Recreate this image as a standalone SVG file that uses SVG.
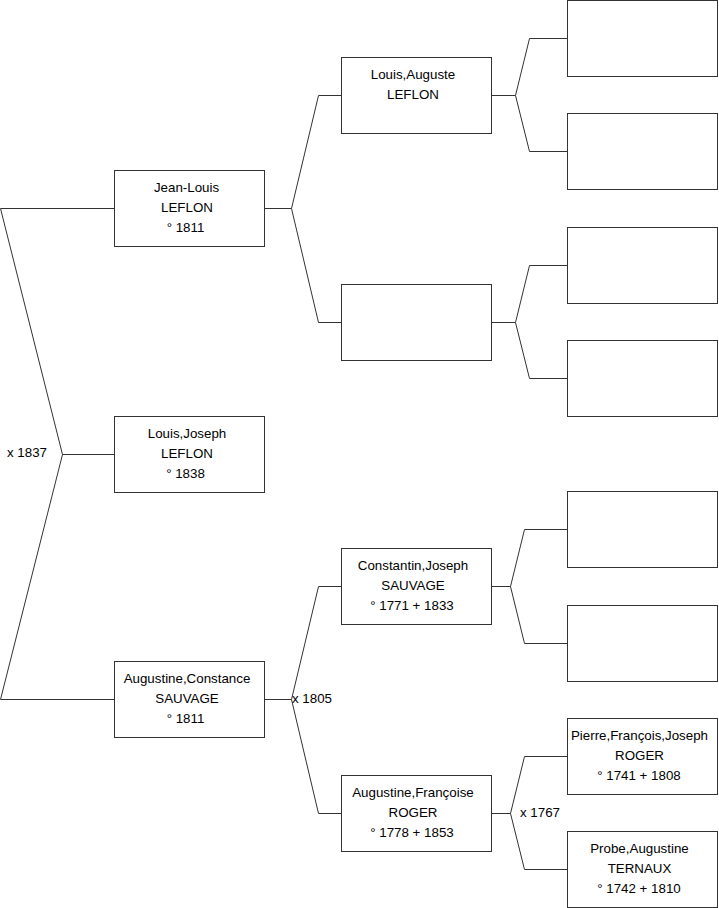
<svg xmlns="http://www.w3.org/2000/svg" width="719" height="908" viewBox="0 0 719 908">
<style>
rect.b{fill:#fff;stroke:#333;stroke-width:1}
text{font-family:"Liberation Sans",Arial,sans-serif;font-size:13.33px;fill:#000;text-anchor:middle}
text.l{text-anchor:start}
#connectors path{fill:none;stroke:#333;stroke-width:1}
</style>
<rect width="719" height="908" fill="#fff"/>
<g id="connectors">
<path d="M0.5,208.5H114M0.5,208.5L62.5,454.5L0.5,699.5H114M62.5,454.5H114"/>
<path d="M265,208.5H291.5L318.5,95.5H341M291.5,208.5L318.5,322.5H341"/>
<path d="M265,699.5H291.5L318.5,586.5H341M291.5,699.5L318.5,813.5H341"/>
<path d="M492,95.5H515.5L529.5,38.5H567M515.5,95.5L529.5,151.5H567"/>
<path d="M492,322.5H515.5L529.5,265.5H567M515.5,322.5L529.5,378.5H567"/>
<path d="M492,586.5H510.5L524.5,529.5H567M510.5,586.5L524.5,643.5H567"/>
<path d="M492,813.5H510.5L524.5,756.5H567M510.5,813.5L524.5,869.5H567"/>
<text class="l" x="7" y="457">x 1837</text>
<text class="l" x="292" y="703">x 1805</text>
<text class="l" x="520" y="817">x 1767</text>
</g>
<g id="n1"><rect class="b" x="114.5" y="170.5" width="150" height="76"/><text x="186.5" y="191.5">Jean-Louis</text><text x="187" y="211.5">LEFLON</text><text x="185.5" y="231.5">° 1811</text></g>
<g id="n0"><rect class="b" x="114.5" y="416.5" width="150" height="76"/><text x="187" y="437.5">Louis,Joseph</text><text x="187" y="457.5">LEFLON</text><text x="185.5" y="477.5">° 1838</text></g>
<g id="n2"><rect class="b" x="114.5" y="661.5" width="150" height="76"/><text x="187" y="682.5">Augustine,Constance</text><text x="187" y="702.5">SAUVAGE</text><text x="185.5" y="722.5">° 1811</text></g>
<g id="n3"><rect class="b" x="341.5" y="57.5" width="150" height="76"/><text x="413" y="78.5">Louis,Auguste</text><text x="413" y="98.5">LEFLON</text></g>
<g id="n4"><rect class="b" x="341.5" y="284.5" width="150" height="76"/></g>
<g id="n5"><rect class="b" x="341.5" y="548.5" width="150" height="76"/><text x="413" y="569.5">Constantin,Joseph</text><text x="413" y="589.5">SAUVAGE</text><text x="412" y="609.5">° 1771 + 1833</text></g>
<g id="n6"><rect class="b" x="341.5" y="775.5" width="150" height="76"/><text x="413" y="796.5">Augustine,Françoise</text><text x="413" y="816.5">ROGER</text><text x="412" y="836.5">° 1778 + 1853</text></g>
<g id="n7"><rect class="b" x="567.5" y="0.5" width="150" height="76"/></g>
<g id="n8"><rect class="b" x="567.5" y="113.5" width="150" height="76"/></g>
<g id="n9"><rect class="b" x="567.5" y="227.5" width="150" height="76"/></g>
<g id="n10"><rect class="b" x="567.5" y="340.5" width="150" height="76"/></g>
<g id="n11"><rect class="b" x="567.5" y="491.5" width="150" height="76"/></g>
<g id="n12"><rect class="b" x="567.5" y="605.5" width="150" height="76"/></g>
<g id="n13"><rect class="b" x="567.5" y="718.5" width="150" height="76"/><text x="639.5" y="739.5">Pierre,François,Joseph</text><text x="639.5" y="759.5">ROGER</text><text x="639" y="779.5">° 1741 + 1808</text></g>
<g id="n14"><rect class="b" x="567.5" y="831.5" width="150" height="76"/><text x="639.5" y="852.5">Probe,Augustine</text><text x="639.5" y="872.5">TERNAUX</text><text x="639" y="892.5">° 1742 + 1810</text></g>
</svg>
